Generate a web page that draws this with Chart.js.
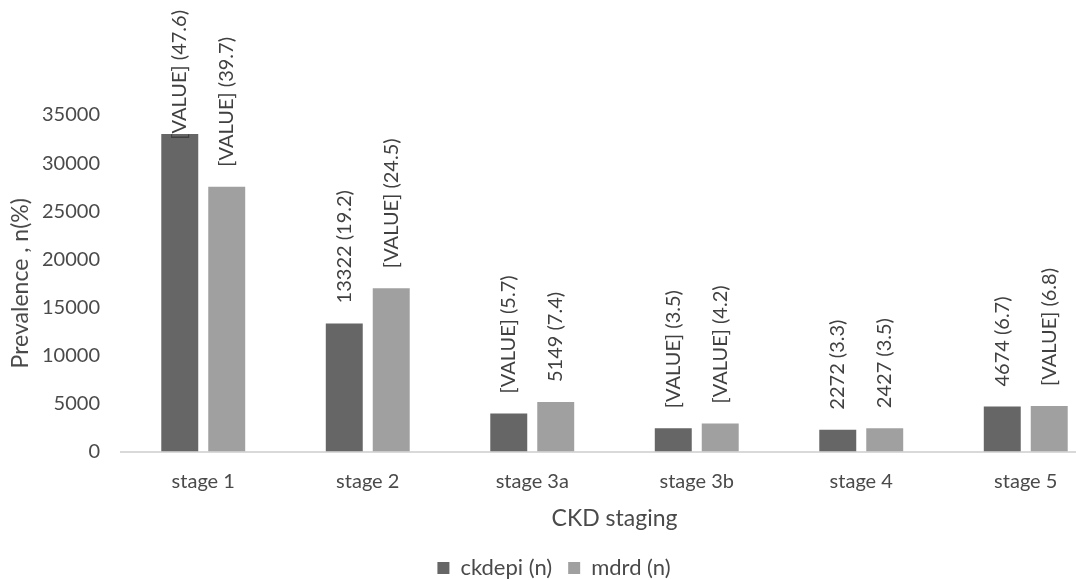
<!DOCTYPE html>
<html>
<head>
<meta charset="utf-8">
<title>CKD staging prevalence</title>
<script src="https://cdn.jsdelivr.net/npm/chart.js@4/dist/chart.umd.min.js"></script>
<style>
  html, body { margin: 0; padding: 0; background: #ffffff; overflow: hidden; }
  #wrap { width: 1110px; height: 580px; }
</style>
</head>
<body>
<div id="wrap"><canvas id="chart" width="1110" height="580"></canvas></div>
<script>
// Stages on the x axis
const categories = ['stage 1', 'stage 2', 'stage 3a', 'stage 3b', 'stage 4', 'stage 5'];

// Patient counts per stage for each equation
const ckdepiCounts = [33030, 13322, 3950, 2425, 2272, 4674];
const mdrdCounts   = [27540, 16990, 5149, 2910, 2427, 4720];

// Share of patients (%) printed next to each count
const ckdepiPercent = [47.6, 19.2, 5.7, 3.5, 3.3, 6.7];
const mdrdPercent   = [39.7, 24.5, 7.4, 4.2, 3.5, 6.8];

// Whether the count itself is printed or only the "[VALUE]" field placeholder
const ckdepiShowsCount = [false, true, false, false, true, true];
const mdrdShowsCount   = [false, false, true, false, true, false];

// Y axis ticks
const yTicks = [0, 5000, 10000, 15000, 20000, 25000, 30000, 35000];

const seriesNames = ['ckdepi (n)', 'mdrd (n)'];
const seriesColors = ['#666666', '#a0a0a0'];

const labelInfo = [
  { counts: ckdepiCounts, percent: ckdepiPercent, shows: ckdepiShowsCount },
  { counts: mdrdCounts, percent: mdrdPercent, shows: mdrdShowsCount }
];

function labelText(series, i) {
  const info = labelInfo[series];
  const head = info.shows[i] ? String(info.counts[i]) : '[VALUE]';
  return head + ' (' + info.percent[i].toFixed(1) + ')';
}

// Vertical value labels above each bar, kept inside the canvas top
const barLabels = {
  id: 'barLabels',
  afterDatasetsDraw(chart) {
    const ctx = chart.ctx;
    ctx.save();
    ctx.font = '20px Lato';
    ctx.fillStyle = '#404040';
    ctx.textAlign = 'left';
    ctx.textBaseline = 'middle';
    chart.data.datasets.forEach((ds, di) => {
      chart.getDatasetMeta(di).data.forEach((bar, i) => {
        const text = labelText(di, i);
        const w = ctx.measureText(text).width;
        let start = bar.y - 20;
        if (start - w < 10) start = 10 + w;
        ctx.save();
        ctx.translate(bar.x, start);
        ctx.rotate(-Math.PI / 2);
        ctx.fillText(text, 0, 0);
        ctx.restore();
      });
    });
    ctx.restore();
  }
};

const textColor = '#4a4a4a';
const tickFont = { family: 'Lato', size: 20 };
const titleFont = { family: 'Lato', size: 23 };

new Chart(document.getElementById('chart'), {
  type: 'bar',
  data: {
    labels: categories,
    datasets: [
      {
        label: seriesNames[0],
        data: ckdepiCounts,
        backgroundColor: seriesColors[0],
        categoryPercentage: 0.571,
        barPercentage: 0.787
      },
      {
        label: seriesNames[1],
        data: mdrdCounts,
        backgroundColor: seriesColors[1],
        categoryPercentage: 0.571,
        barPercentage: 0.787
      }
    ]
  },
  options: {
    responsive: false,
    animation: false,
    layout: { padding: { top: 115, right: 2, bottom: -9, left: 0 } },
    plugins: {
      tooltip: { enabled: false },
      legend: {
        position: 'bottom',
        labels: {
          boxWidth: 12,
          boxHeight: 12,
          padding: 16,
          color: textColor,
          font: { family: 'Lato', size: 22 }
        }
      }
    },
    scales: {
      x: {
        grid: { display: false, drawTicks: false },
        border: { display: true, color: '#d9d9d9', width: 2 },
        ticks: { color: textColor, font: tickFont, padding: 18 },
        title: {
          display: true,
          text: 'CKD staging',
          color: textColor,
          font: titleFont,
          padding: { top: 0, bottom: 9 }
        },
        afterFit(scale) { scale.height = 89.5; }
      },
      y: {
        min: 0,
        max: 35000,
        afterBuildTicks(scale) { scale.ticks = yTicks.map(v => ({ value: v })); },
        grid: { display: false, drawTicks: false },
        border: { display: false },
        ticks: {
          color: textColor,
          font: tickFont,
          padding: 21,
          callback: (v) => String(v)
        },
        title: {
          display: true,
          text: 'Prevalence , n(%)',
          color: textColor,
          font: titleFont,
          padding: { top: 7, bottom: 0 }
        },
        afterFit(scale) { scale.width = 121; }
      }
    }
  },
  plugins: [barLabels]
});
</script>
</body>
</html>
